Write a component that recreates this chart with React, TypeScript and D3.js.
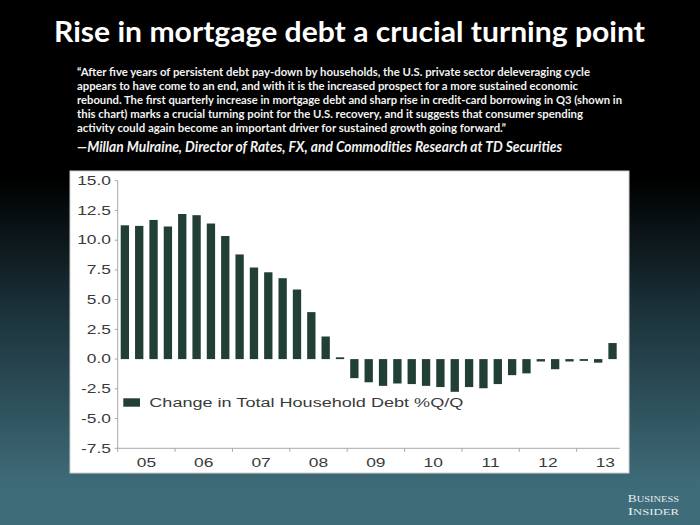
import React, { useEffect, useRef } from "react";
import * as d3 from "d3";

const W = 700;
const H = 525;

const titleText = "Rise in mortgage debt a crucial turning point";
const quoteLines = [
  "\u201CAfter five years of persistent debt pay-down by households, the U.S. private sector deleveraging cycle",
  "appears to have come to an end, and with it is the increased prospect for a more sustained economic",
  "rebound. The first quarterly increase in mortgage debt and sharp rise in credit-card borrowing in Q3 (shown in",
  "this chart) marks a crucial turning point for the U.S. recovery, and it suggests that consumer spending",
  "activity could again become an important driver for sustained growth going forward.\u201D",
];
const quoteWidths = [513, 501, 545, 506, 429];
const attribution = "\u2014Millan Mulraine, Director of Rates, FX, and Commodities Research at TD Securities";

const years = ["05", "06", "07", "08", "09", "10", "11", "12", "13"];
const quarters = ["Q1", "Q2", "Q3", "Q4"];
const values = [
  11.25, 11.2, 11.7, 11.15,
  12.2, 12.1, 11.4, 10.35,
  8.8, 7.7, 7.3, 6.8,
  5.85, 3.95, 1.9, 0.15,
  -1.6, -1.95, -2.25, -2.05,
  -2.1, -2.25, -2.35, -2.75,
  -2.35, -2.45, -2.1, -1.35,
  -1.2, -0.2, -0.85, -0.2,
  -0.15, -0.3, 1.35,
];
const yTicks = [15, 12.5, 10, 7.5, 5, 2.5, 0, -2.5, -5, -7.5];
const legendLabel = "Change in Total Household Debt %Q/Q";

const periods = values.map((_, i) => `${years[Math.floor(i / 4)]}${quarters[i % 4]}`);

const BAR = "#213f34";
const AXIS = "#a8a8a8";
const TXT = "#3a3a3a";
const SX = 1.45;

export default function App() {
  const ref = useRef<SVGSVGElement>(null);

  useEffect(() => {
    const svg = d3.select(ref.current);
    svg.selectAll("*").remove();

    const defs = svg.append("defs");
    const grad = defs
      .append("linearGradient")
      .attr("id", "bg")
      .attr("x1", 0)
      .attr("y1", 0)
      .attr("x2", 0)
      .attr("y2", 1);
    grad.append("stop").attr("offset", 0).attr("stop-color", "#000000");
    grad.append("stop").attr("offset", 0.34).attr("stop-color", "#000000");
    grad.append("stop").attr("offset", 0.6).attr("stop-color", "#1c333b");
    grad.append("stop").attr("offset", 0.92).attr("stop-color", "#3e6b78");
    grad.append("stop").attr("offset", 1).attr("stop-color", "#3f6c79");

    svg.append("rect").attr("width", W).attr("height", H).attr("fill", "url(#bg)");

    // Title
    svg
      .append("text")
      .attr("x", 54)
      .attr("y", 42)
      .attr("fill", "#ffffff")
      .attr("font-family", "Lato, 'Open Sans', sans-serif")
      .attr("font-weight", 700)
      .attr("font-size", 28)
      .attr("textLength", 591)
      .attr("lengthAdjust", "spacingAndGlyphs")
      .text(titleText);

    // Quote
    quoteLines.forEach((line, i) => {
      svg
        .append("text")
        .attr("x", 77)
        .attr("y", 76 + i * 14)
        .attr("fill", "#f2f2f2")
        .attr("font-family", "Lato, 'Open Sans', sans-serif")
        .attr("font-weight", 700)
        .attr("font-size", 12)
        .attr("textLength", quoteWidths[i])
        .attr("lengthAdjust", "spacingAndGlyphs")
        .text(line);
    });
    svg
      .append("text")
      .attr("x", 77)
      .attr("y", 152)
      .attr("fill", "#f2f2f2")
      .attr("font-family", "Lato, 'Open Sans', sans-serif")
      .attr("font-weight", 700)
      .attr("font-style", "italic")
      .attr("font-size", 15)
      .attr("textLength", 485)
      .attr("lengthAdjust", "spacingAndGlyphs")
      .text(attribution);

    // Chart panel
    svg
      .append("rect")
      .attr("x", 70)
      .attr("y", 171)
      .attr("width", 559)
      .attr("height", 302)
      .attr("fill", "#ffffff")
      .attr("stroke", "#cfcfcf")
      .attr("stroke-width", 1);

    const x = d3
      .scaleBand<string>()
      .domain(periods)
      .range([117.7, 619.7])
      .paddingInner(0.42)
      .paddingOuter(0.21);
    const y = d3.scaleLinear().domain([-7.5, 15]).range([448.3, 180.7]);

    // Bars
    svg
      .append("g")
      .selectAll("rect")
      .data(values)
      .join("rect")
      .attr("x", (_, i) => x(periods[i]) as number)
      .attr("width", x.bandwidth())
      .attr("y", (d) => y(Math.max(0, d)))
      .attr("height", (d) => Math.max(1, Math.abs(y(d) - y(0))))
      .attr("fill", BAR);

    // Y axis
    const yAxis = svg.append("g");
    yAxis
      .append("line")
      .attr("x1", 117.7)
      .attr("x2", 117.7)
      .attr("y1", y(15))
      .attr("y2", y(-7.5))
      .attr("stroke", AXIS);
    yTicks.forEach((t) => {
      yAxis
        .append("line")
        .attr("x1", 114.7)
        .attr("x2", 117.7)
        .attr("y1", y(t))
        .attr("y2", y(t))
        .attr("stroke", AXIS);
      yAxis
        .append("g")
        .attr("transform", `translate(111,${y(t) + 4.3}) scale(${SX},1)`)
        .append("text")
        .attr("text-anchor", "end")
        .attr("fill", TXT)
        .attr("font-family", "'Liberation Sans', Arial, sans-serif")
        .attr("font-size", 12)
        .text(t.toFixed(1));
    });

    // X axis
    const xAxis = svg.append("g");
    xAxis
      .append("line")
      .attr("x1", 117.7)
      .attr("x2", 619.7)
      .attr("y1", y(-7.5))
      .attr("y2", y(-7.5))
      .attr("stroke", AXIS);
    years.forEach((yr, k) => {
      const first = periods[k * 4];
      const x0 = (x(first) as number) - x.step() * 0.21;
      xAxis
        .append("line")
        .attr("x1", x0)
        .attr("x2", x0)
        .attr("y1", y(-7.5))
        .attr("y2", y(-7.5) + 3.5)
        .attr("stroke", AXIS);
      const cx = x0 + x.step() * 2;
      xAxis
        .append("g")
        .attr("transform", `translate(${cx},${467}) scale(${SX},1)`)
        .append("text")
        .attr("text-anchor", "middle")
        .attr("fill", TXT)
        .attr("font-family", "'Liberation Sans', Arial, sans-serif")
        .attr("font-size", 12)
        .text(yr);
    });

    // Legend
    svg
      .append("rect")
      .attr("x", 123.3)
      .attr("y", 398.3)
      .attr("width", 16.7)
      .attr("height", 8.4)
      .attr("fill", BAR);
    svg
      .append("text")
      .attr("x", 149.3)
      .attr("y", 407)
      .attr("fill", TXT)
      .attr("font-family", "'Liberation Sans', Arial, sans-serif")
      .attr("font-size", 12.5)
      .attr("textLength", 314)
      .attr("lengthAdjust", "spacingAndGlyphs")
      .text(legendLabel);

    // Logo
    const logo = svg.append("g").attr("fill", "#e6eef0").attr("font-family", "'Liberation Serif', 'DejaVu Serif', serif");
    const l1 = logo.append("text").attr("x", 627.7).attr("y", 502.3).attr("textLength", 51.3).attr("lengthAdjust", "spacingAndGlyphs");
    l1.append("tspan").attr("font-size", 10.5).text("B");
    l1.append("tspan").attr("font-size", 8.2).text("USINESS");
    const l2 = logo.append("text").attr("x", 627.7).attr("y", 515).attr("textLength", 51.3).attr("lengthAdjust", "spacingAndGlyphs");
    l2.append("tspan").attr("font-size", 10.5).text("I");
    l2.append("tspan").attr("font-size", 8.2).text("NSIDER");
  }, []);

  return (
    <svg
      ref={ref}
      width={W}
      height={H}
      style={{ position: "fixed", left: 0, top: 0, display: "block" }}
    />
  );
}
